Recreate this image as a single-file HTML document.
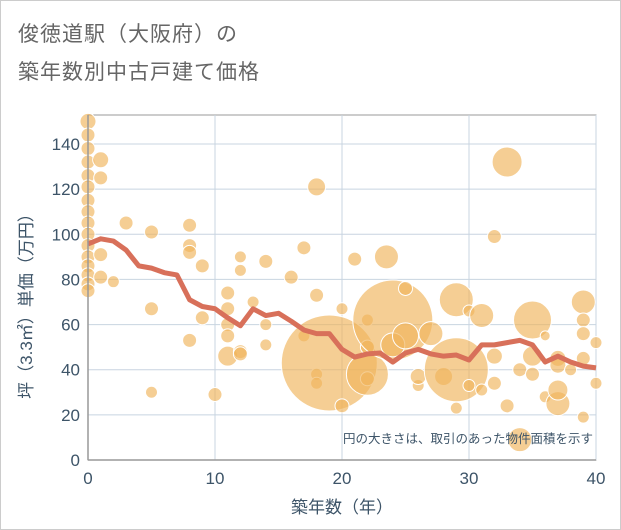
<!DOCTYPE html>
<html><head><meta charset="utf-8"><style>
body{margin:0;background:#fff;font-family:"Liberation Sans","Noto Sans CJK JP",sans-serif}
#wrap{position:relative;width:619px;height:528px;border:1px solid #ccc;background:#fff}
.title{position:absolute;left:17px;font-size:21px;color:#666;letter-spacing:1px}
</style></head><body>
<div id="wrap">
<div class="title" style="top:17px">俊徳道駅（大阪府）の</div>
<div class="title" style="top:55px">築年数別中古戸建て価格</div>
<svg id="chart" width="621" height="530" style="position:absolute;left:-1px;top:-1px"></svg>
</div>
<script>
const xTicks=[0,10,20,30,40];
const yTicks=[0,20,40,60,80,100,120,140];
const lineYears=[0,1,2,3,4,5,6,7,8,9,10,11,12,13,14,15,16,17,18,19,20,21,22,23,24,25,26,27,28,29,30,31,32,33,34,35,36,37,38,39,40];
const lineValues=[95.7,98,97,93,86,85,83,82,71,68,67,63,59.5,67,64,65,61.5,57.6,56,56,49,45.6,47,47.4,43.4,47.4,49,47,46,46.5,44.3,51,51,52,53,51,43.4,46,43.4,41.6,40.8];
const bubbleYears=[0,0,0,0,0,0,0,0,0,0,0,0,0,0,0,0,1,1,1,1,2,3,5,5,5,8,8,8,8,9,9,10,11,11,11,11,11,12,12,12,12,13,14,14,14,16,17,17,18,18,18,18,19,20,20,21,22,22,22,22,23.5,24,24,25,25,26,26,27,28,29,29,29,30,30,31,31,32,32,32,33,33,34,34,35,35,35,36,36,37,37,37,37,38,39,39,39,39,39,40,40];
const bubblePrices=[150,144,138,132,126,121,115,110,105,100,95,90,86,82,78,75,133,125,91,81,79,105,101,67,30,104,95,92,53,86,63,29,74,67,60,55,46,90,84,48,47,70,88,60,51,81,94,55,121,73,38,34,43,67,24,89,62,50,36,38,90,62,51,76,55,33,37,56,37,40,71,23,66,33,64,31,99,46,34,132,24,9,40,62,46,38,28,55,45,25,31,42,40,70,62,56,45,19,52,34];
const bubbleSizes=[8,7,7,7,7,7,7,7,7,7,7,7,7,7,7,7,8,7,7,7,6,7,7,7,6,7,7,7,7,7,7,7,7,7,7,7,10,6,6,7,7,6,7,6,6,7,7,6,9,7,6,6,48,6,7,7,6,7,7,21,12,40,12,7,13,6,8,12,9,32,17,6,6,6,12,6,7,8,7,15,7,12,7,19,10,7,6,5,8,12,10,8,6,12,7,7,7,6,6,6];
const svg=document.getElementById('chart');
const NS='http://www.w3.org/2000/svg';
const X0=88,X1=596,Y0=460,Y1=144;
const sx=v=>X0+(X1-X0)*v/40;
const sy=v=>Y0-(Y0-Y1)*v/140;
function mk(t,a){const e=document.createElementNS(NS,t);for(const k in a)e.setAttribute(k,a[k]);svg.appendChild(e);return e;}
const bg=mk('rect',{x:X0,y:115,width:X1-X0,height:Y0-115,fill:'#fff',stroke:'#999','stroke-width':1});


yTicks.forEach(v=>{
 const l=mk('line',{x1:X0,x2:X1,y1:sy(v),y2:sy(v),stroke:'#c8d4e0','stroke-width':1});
 
 
 const t=mk('text',{x:X0-8,y:sy(v)+6,'text-anchor':'end','font-size':17,fill:'#3d5468'});
 t.textContent=v;
 
 
});
xTicks.forEach(v=>{
 const l=mk('line',{x1:sx(v),x2:sx(v),y1:115,y2:Y0,stroke:'#c8d4e0','stroke-width':1});
 
 
 const t=mk('text',{x:sx(v),y:Y0+24,'text-anchor':'middle','font-size':17,fill:'#3d5468'});
 t.textContent=v;
 
 
});
bubbleYears.forEach((yr,i)=>{
 const c=mk('circle',{cx:sx(yr),cy:sy(bubblePrices[i]),r:bubbleSizes[i],fill:'#f0b35a','fill-opacity':0.65,stroke:'#fff','stroke-width':1});
 
 
});
const pts=lineYears.map((y,i)=>sx(y)+','+sy(lineValues[i])).join(' ');
const pl=mk('polyline',{points:pts,fill:'none',stroke:'#d8705a','stroke-width':5,'stroke-linejoin':'round'});


const ax=mk('line',{x1:X0,x2:X1,y1:Y0,y2:Y0,stroke:'#999','stroke-width':1.5});


const ay=mk('line',{x1:X0,x2:X0,y1:115,y2:Y0,stroke:'#999','stroke-width':1.5});


const note=mk('text',{x:593,y:443,'text-anchor':'end','font-size':12.5,fill:'#3d5468'});
note.textContent='円の大きさは、取引のあった物件面積を示す';


const xt=mk('text',{x:342,y:513,'text-anchor':'middle','font-size':17,fill:'#3d5468'});
xt.textContent='築年数（年）';


const yt=mk('text',{x:0,y:0,'text-anchor':'middle','font-size':17,fill:'#3d5468',transform:'translate(32,302) rotate(-90)'});
yt.textContent='坪（3.3㎡）単価（万円）';


</script>
</body></html>
